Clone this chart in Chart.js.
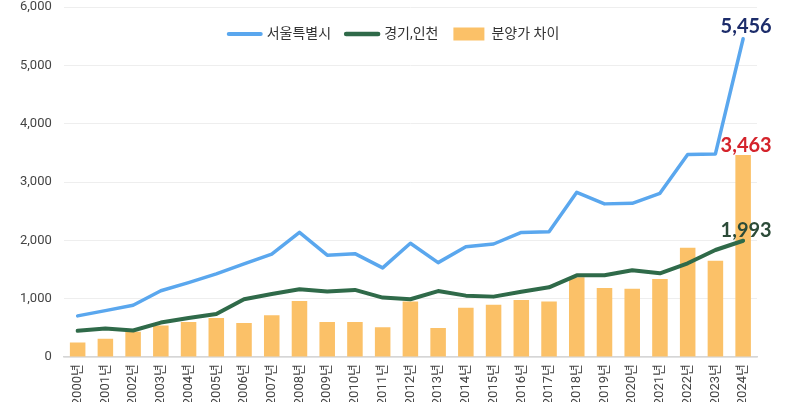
<!DOCTYPE html>
<html>
<head>
<meta charset="utf-8">
<script src="https://cdn.jsdelivr.net/npm/chart.js@4"></script>
<style>
  html, body { margin: 0; padding: 0; background: #fff; }
  #wrap { width: 786px; height: 402px; }
</style>
</head>
<body>
<div id="wrap"><canvas id="myChart"></canvas></div>
<script>
var years = ['2000년', '2001년', '2002년', '2003년', '2004년', '2005년', '2006년', '2007년', '2008년', '2009년',
    '2010년', '2011년', '2012년', '2013년', '2014년', '2015년', '2016년', '2017년', '2018년', '2019년',
    '2020년', '2021년', '2022년', '2023년', '2024년'];

// 서울특별시
var seoul = [705, 795, 888, 1135, 1275, 1425, 1595, 1765, 2137, 1745,
    1772, 1528, 1950, 1618, 1890, 1937, 2135, 2147, 2823, 2625,
    2635, 2806, 3470, 3482, 5456];

// 경기,인천
var gyeonggi = [448, 488, 455, 590, 670, 738, 990, 1080, 1160, 1122,
    1150, 1018, 990, 1130, 1052, 1035, 1120, 1195, 1400, 1402,
    1488, 1434, 1606, 1834, 1993];

// 분양가 차이
var gap = [248, 314, 432, 538, 602, 670, 585, 714, 960, 602,
    602, 510, 950, 498, 846, 897, 977, 950, 1366, 1184,
    1172, 1338, 1875, 1652, 3463];

var yTicks = [0, 1000, 2000, 3000, 4000, 5000, 6000];

const FONT = 'Roboto, "Noto Sans CJK KR", sans-serif';

// legend drawn inside the plot, top centre
const innerLegend = {
    id: 'innerLegend',
    afterDraw(chart) {
        const ctx = chart.ctx;
        const cy = 34;
        ctx.save();
        ctx.font = '14px ' + FONT;
        ctx.textBaseline = 'middle';
        var items = chart.data.datasets.map(function (ds) {
            return { ds: ds, w: 34 + 6 + ctx.measureText(ds.label).width };
        });
        var total = items.reduce(function (s, it) { return s + it.w; }, 0) + 13 * (items.length - 1);
        var x = 393 - total / 2;
        items.forEach(function (it) {
            var ds = it.ds;
            if (ds.type === 'line') {
                ctx.strokeStyle = ds.borderColor;
                ctx.lineWidth = ds.borderWidth + 0.5;
                ctx.lineCap = 'round';
                ctx.beginPath();
                ctx.moveTo(x + 2, cy);
                ctx.lineTo(x + 34, cy);
                ctx.stroke();
            } else {
                ctx.fillStyle = ds.backgroundColor;
                ctx.fillRect(x + 2, cy - 6.5, 31, 13);
            }
            ctx.fillStyle = '#333';
            ctx.fillText(ds.label, x + 40, cy);
            x += it.w + 13;
        });
        ctx.restore();
    }
};

// last value labels on each series
const lastLabels = {
    id: 'lastLabels',
    afterDatasetsDraw(chart) {
        const ctx = chart.ctx;
        const colors = ['#1d2d6b', '#2c4b38', '#d4232b'];
        const offsets = [12, 10, 9];
        chart.data.datasets.forEach(function (ds, i) {
            const meta = chart.getDatasetMeta(i);
            const el = meta.data[meta.data.length - 1];
            const v = ds.data[ds.data.length - 1];
            ctx.save();
            ctx.font = 'bold 20px Lato, Roboto, sans-serif';
            ctx.fillStyle = colors[i];
            ctx.textAlign = 'center';
            ctx.textBaseline = 'middle';
            ctx.fillText(v.toLocaleString('en-US'), el.x + 3, el.y - offsets[i]);
            ctx.restore();
        });
    }
};

var ctx = document.getElementById('myChart').getContext('2d');
var myChart = new Chart(ctx, {
    data: {
        labels: years,
        datasets: [
            {
                type: 'line',
                label: '서울특별시',
                data: seoul,
                borderColor: '#5aa7ee',
                backgroundColor: '#5aa7ee',
                borderWidth: 3.5,
                tension: 0,
                pointRadius: 0,
                borderCapStyle: 'round',
                borderJoinStyle: 'round',
                order: 0
            },
            {
                type: 'line',
                label: '경기,인천',
                data: gyeonggi,
                borderColor: '#2f6a49',
                backgroundColor: '#2f6a49',
                borderWidth: 4,
                tension: 0,
                pointRadius: 0,
                borderCapStyle: 'round',
                borderJoinStyle: 'round',
                order: 0
            },
            {
                type: 'bar',
                label: '분양가 차이',
                data: gap,
                backgroundColor: '#fbc168',
                borderWidth: 0,
                barPercentage: 0.56,
                categoryPercentage: 1,
                order: 1
            }
        ]
    },
    options: {
        responsive: true,
        maintainAspectRatio: false,
        animation: false,
        locale: 'en-US',
        layout: { padding: { left: 8, right: 29, top: 0, bottom: 0 } },
        plugins: {
            tooltip: { enabled: false },
            legend: { display: false }
        },
        scales: {
            x: {
                grid: { display: false, drawTicks: false },
                border: { display: true, color: '#d6d6d6', width: 1.5 },
                afterFit: function (axis) {
                    // labels run off the bottom edge, as in the original
                    axis.height = 45;
                },
                ticks: {
                    color: '#444',
                    font: { family: FONT, size: 13 },
                    minRotation: 90,
                    maxRotation: 90,
                    autoSkip: false,
                    padding: 7
                }
            },
            y: {
                min: 0,
                max: 6000,
                afterBuildTicks: function (axis) {
                    axis.ticks = yTicks.map(function (v) { return { value: v }; });
                },
                afterFit: function (axis) {
                    axis.paddingTop = 7;
                },
                grid: { color: '#eeeeee', drawTicks: false },
                border: { display: false },
                ticks: {
                    color: '#444',
                    font: { family: FONT, size: 13 },
                    padding: 12,
                    callback: function (v) { return v.toLocaleString('en-US'); }
                }
            }
        }
    },
    plugins: [innerLegend, lastLabels]
});
</script>
</body>
</html>
